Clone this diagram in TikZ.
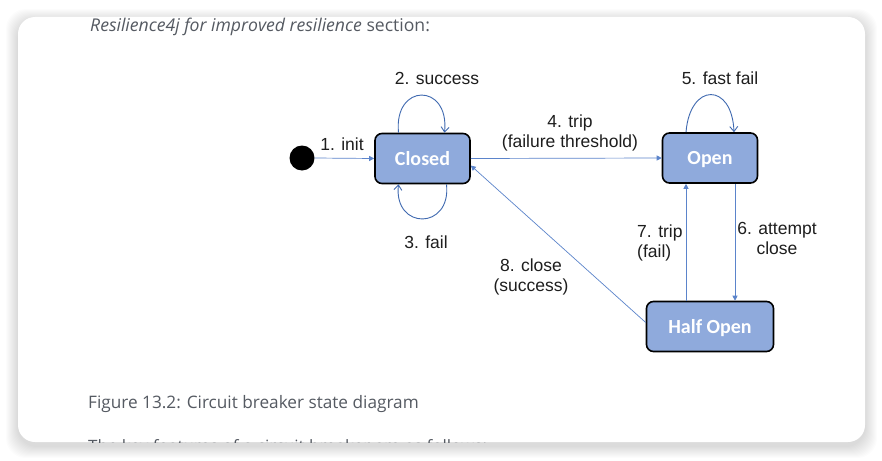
\documentclass[tikz,border=0pt]{standalone}
\usepackage{fontspec}
\setmainfont{Liberation Sans}
\newfontfamily\boxfont{Carlito}
\newfontfamily\pagefont{Open Sans}
\usetikzlibrary{arrows.meta}
\definecolor{linkblue}{HTML}{5B84CB}
\definecolor{loopblue}{HTML}{3F69B0}
\definecolor{boxfill}{HTML}{8FAADC}
\definecolor{labeltext}{HTML}{1E1E1E}
\definecolor{pagetext}{HTML}{555A62}
\tikzset{
  conn/.style={draw=linkblue, line width=0.7pt, -{Triangle[length=5pt,width=5pt]}},
  loopconn/.style={draw=loopblue, line width=0.9pt, -{Straight Barb[length=5pt,width=8pt]}},
  state/.style={draw=black, line width=1.6pt, fill=boxfill, rounded corners=7pt,
    minimum height=50pt, text=white, inner sep=0pt, text height=13pt, text depth=0pt,
    font=\boxfont\bfseries\fontsize{20}{24}\selectfont},
  lbl/.style={font=\fontsize{17.5}{20}\selectfont, text=labeltext, inner sep=0pt, align=center},
  pagetxt/.style={font=\pagefont\fontsize{17}{20}\selectfont, text=pagetext, inner sep=0pt, anchor=base west}
}
\begin{document}
\begin{tikzpicture}[x=1pt,y=-1pt]
\useasboundingbox (0,0) rectangle (882,460);
\fill[white] (0,0) rectangle (882,460);
% card shadow
\foreach \i in {1,...,12}{
  \fill[black,opacity=0.012,rounded corners=20pt] (18-\i,17-\i+4) rectangle (865+\i,442+\i+4);
}
\fill[white,rounded corners=17pt] (18,17) rectangle (865,442);
% page text
\node[pagetxt, font=\pagefont\fontsize{17.6}{20}\selectfont] (intro) at (90,32) {\itshape Resilience4j for improved resilience\upshape{} section:};
\node[pagetxt, font=\pagefont\fontsize{17.2}{20}\selectfont] (caption) at (88,408) {Figure 13.2: Circuit breaker state diagram};
\begin{scope}
  \clip[rounded corners=17pt] (18,17) rectangle (865,442);
  \node[pagetxt] (next) at (88,452.5) {The key features of a circuit breaker are as follows:};
\end{scope}
% states
\node[circle, fill=black, minimum size=25pt, inner sep=0pt] (init) at (302,158) {};
\node[state, minimum width=95pt] (closed) at (422.5,158.5) {Closed};
\node[state, minimum width=95pt] (open) at (710,158) {Open};
\node[state, minimum width=127pt] (half) at (710,326.5) {Half Open};
% connectors
\draw[conn] (init.east) -- (closed.west);
\draw[conn] (closed.east) -- (open.west);
\draw[conn] ([xshift=25pt]open.south) -- ([xshift=25pt]half.north);
\draw[conn] ([xshift=-24pt]half.north) -- ([xshift=-24pt]open.south);
\draw[conn] ([yshift=4pt]half.west) -- ([yshift=-7pt]closed.east);
\draw[loopconn] ([xshift=-24pt]closed.north) .. controls +(-5,-50) and +(5,-50) .. ([xshift=22pt]closed.north);
\draw[loopconn] ([xshift=24pt]closed.south) .. controls +(5,46) and +(-5,46) .. ([xshift=-24pt]closed.south);
\draw[loopconn] ([xshift=-24pt]open.north) .. controls +(4,-50) and +(-2,-50) .. ([xshift=24pt]open.north);
% labels
\node[lbl] (l1) at (342,144) {1. init};
\node[lbl] (l2) at (437,78) {2. success};
\node[lbl] (l3) at (426,242) {3. fail};
\node[lbl] (l4) at (570,133) {4. trip\\(failure threshold)};
\node[lbl] (l5) at (720,78) {5. fast fail};
\node[lbl] (l6) at (777,238) {6. attempt\\close};
\node[lbl, align=left, anchor=west] (l7) at (637,242.5) {7. trip\\(fail)};
\node[lbl] (l8) at (531,276.5) {8. close\\(success)};
\end{tikzpicture}
\end{document}
